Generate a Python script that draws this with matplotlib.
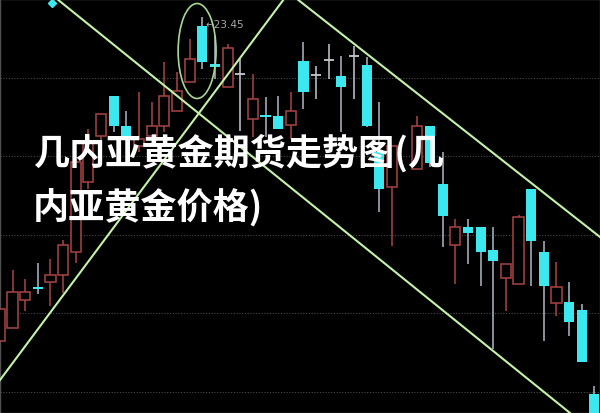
import matplotlib.pyplot as plt
from matplotlib.patches import Ellipse

# 蜡烛图数据
idx = [-1, 0, 1, 2, 3, 4, 5, 6, 7, 8, 9, 10, 11, 12, 13, 14, 15, 16, 17, 18,
       19, 20, 21, 22, 23, 24, 25, 26, 27, 28, 29, 30, 32, 33, 34, 35, 36, 37,
       38, 39, 40, 41, 42, 43, 44, 45, 46]
opens = [20.21, 20.34, 20.62, 20.75, 20.80, 20.87, 21.10, 21.80, 22.26, 22.66,
         22.36, 22.16, 22.26, 22.36, 22.51, 22.80, 23.36, 22.98, 22.75, 22.88,
         22.43, 22.47, 22.46, 22.37, 23.01, 22.87, 23.02, 22.86, 23.06, 22.97,
         22.10, 21.75, 21.93, 22.36, 21.78, 21.17, 21.35, 21.35, 21.12, 20.84,
         20.78, 21.73, 21.10, 20.59, 20.60, 20.52, 19.68]
highs = [20.53, 20.92, 20.83, 20.99, 21.03, 21.22, 22.05, 22.33, 22.48, 22.66,
         22.51, 22.70, 22.60, 23.00, 22.90, 23.23, 23.45, 23.26, 23.18, 23.03,
         22.88, 22.65, 22.66, 22.70, 23.20, 22.96, 23.18, 23.06, 23.16, 23.05,
         22.60, 22.16, 22.46, 22.36, 22.10, 21.43, 21.43, 21.35, 21.35, 20.98,
         21.47, 21.73, 21.21, 21.00, 20.80, 20.58, 19.76]
lows = [20.21, 20.34, 20.51, 20.68, 20.56, 20.69, 20.99, 21.73, 22.00, 22.30,
        22.23, 22.10, 22.16, 22.30, 22.51, 22.80, 22.93, 22.83, 22.75, 22.31,
        22.25, 22.25, 22.33, 22.23, 22.53, 22.63, 22.83, 22.30, 22.63, 22.35,
        21.50, 21.16, 21.93, 21.95, 21.15, 20.78, 20.98, 20.76, 20.13, 20.51,
        20.78, 20.76, 20.21, 20.46, 20.26, 20.00, 19.30]
closes = [20.53, 20.70, 20.70, 20.73, 20.87, 21.17, 22.00, 22.20, 22.48, 22.36,
          22.23, 22.23, 22.36, 22.66, 22.71, 23.03, 23.00, 22.95, 23.14, 22.88,
          22.63, 22.45, 22.33, 22.51, 22.70, 22.87, 23.02, 22.75, 23.06, 22.36,
          21.73, 22.16, 22.36, 21.99, 21.46, 21.35, 21.29, 21.10, 21.01, 20.98,
          21.45, 21.21, 20.76, 20.75, 20.40, 20.00, 19.30]

grid_levels = [22.84, 22.06, 21.27, 20.49, 19.70]

# 趋势线 (x, y)
trend_lines = [
    ([3.52, 44.07], [23.63, 19.49]),
    ([22.49, 46.44], [23.63, 21.25]),
    ([-0.99, 21.46], [19.82, 23.63]),
]

max_label = '←23.45'
title_lines = ['几内亚黄金期货走势图(几', '内亚黄金价格)']

up_color = '#a84444'
down_color = '#3ce8f0'
doji_color = '#c8c8d0'
line_color = '#c4f2a8'

plt.rcParams['font.family'] = ['Noto Sans CJK SC', 'DejaVu Sans']

fig = plt.figure(figsize=(6, 4.14), dpi=100)
fig.patch.set_facecolor('black')
ax = fig.add_axes([0, 0, 1, 1])
ax.set_facecolor('black')

for y in grid_levels:
    ax.axhline(y, color='#4a4a4a', lw=0.8, ls=(0, (1, 1.5)), zorder=1)

w = 0.8
for x, o, h, l, c in zip(idx, opens, highs, lows, closes):
    if abs(c - o) < 0.005:
        # 十字星
        ax.vlines(x, l, h, color=doji_color, lw=1.1, zorder=2)
        ax.hlines(o, x - w / 2, x + w / 2, color=doji_color, lw=1.3, zorder=3)
    elif c > o:
        ax.vlines(x, c, h, color=up_color, lw=1.1, zorder=2)
        ax.vlines(x, l, o, color=up_color, lw=1.1, zorder=2)
        ax.bar(x, c - o, bottom=o, width=w, facecolor='black',
               edgecolor=up_color, lw=1.1, zorder=3)
    else:
        ax.vlines(x, l, h, color='#b0b8c8', lw=1.1, zorder=2)
        height = max(o - c, 0.025)
        ax.bar(x, height, bottom=o - height, width=w, color=down_color,
               lw=0, zorder=3)

for xs, ys in trend_lines:
    ax.plot(xs, ys, color=line_color, lw=1.5, zorder=4)

ax.add_patch(Ellipse((14.59, 23.11), 3.0, 0.95, fill=False,
                     edgecolor='#a8d890', lw=1.2, zorder=4))
ax.plot(3.12, 23.59, marker='D', ms=4, color=down_color, zorder=5)
ax.text(15.25, 23.38, max_label, color='#a8a8a8', fontsize=7.5,
        va='center', ha='left', family=['DejaVu Sans'], zorder=5)

ax.set_xlim(-0.99, 46.44)
ax.set_ylim(19.49, 23.63)
ax.set_xticks([])
ax.set_yticks([])
for s in ax.spines.values():
    s.set_color('#505050')
    s.set_linewidth(1)

fig.text(33 / 600, 1 - 153 / 414, title_lines[0], color='white', fontsize=26,
         fontweight='bold', va='center', ha='left')
fig.text(33 / 600, 1 - 207 / 414, title_lines[1], color='white', fontsize=26,
         fontweight='bold', va='center', ha='left')

fig.savefig('out.png', dpi=100, facecolor='black')
